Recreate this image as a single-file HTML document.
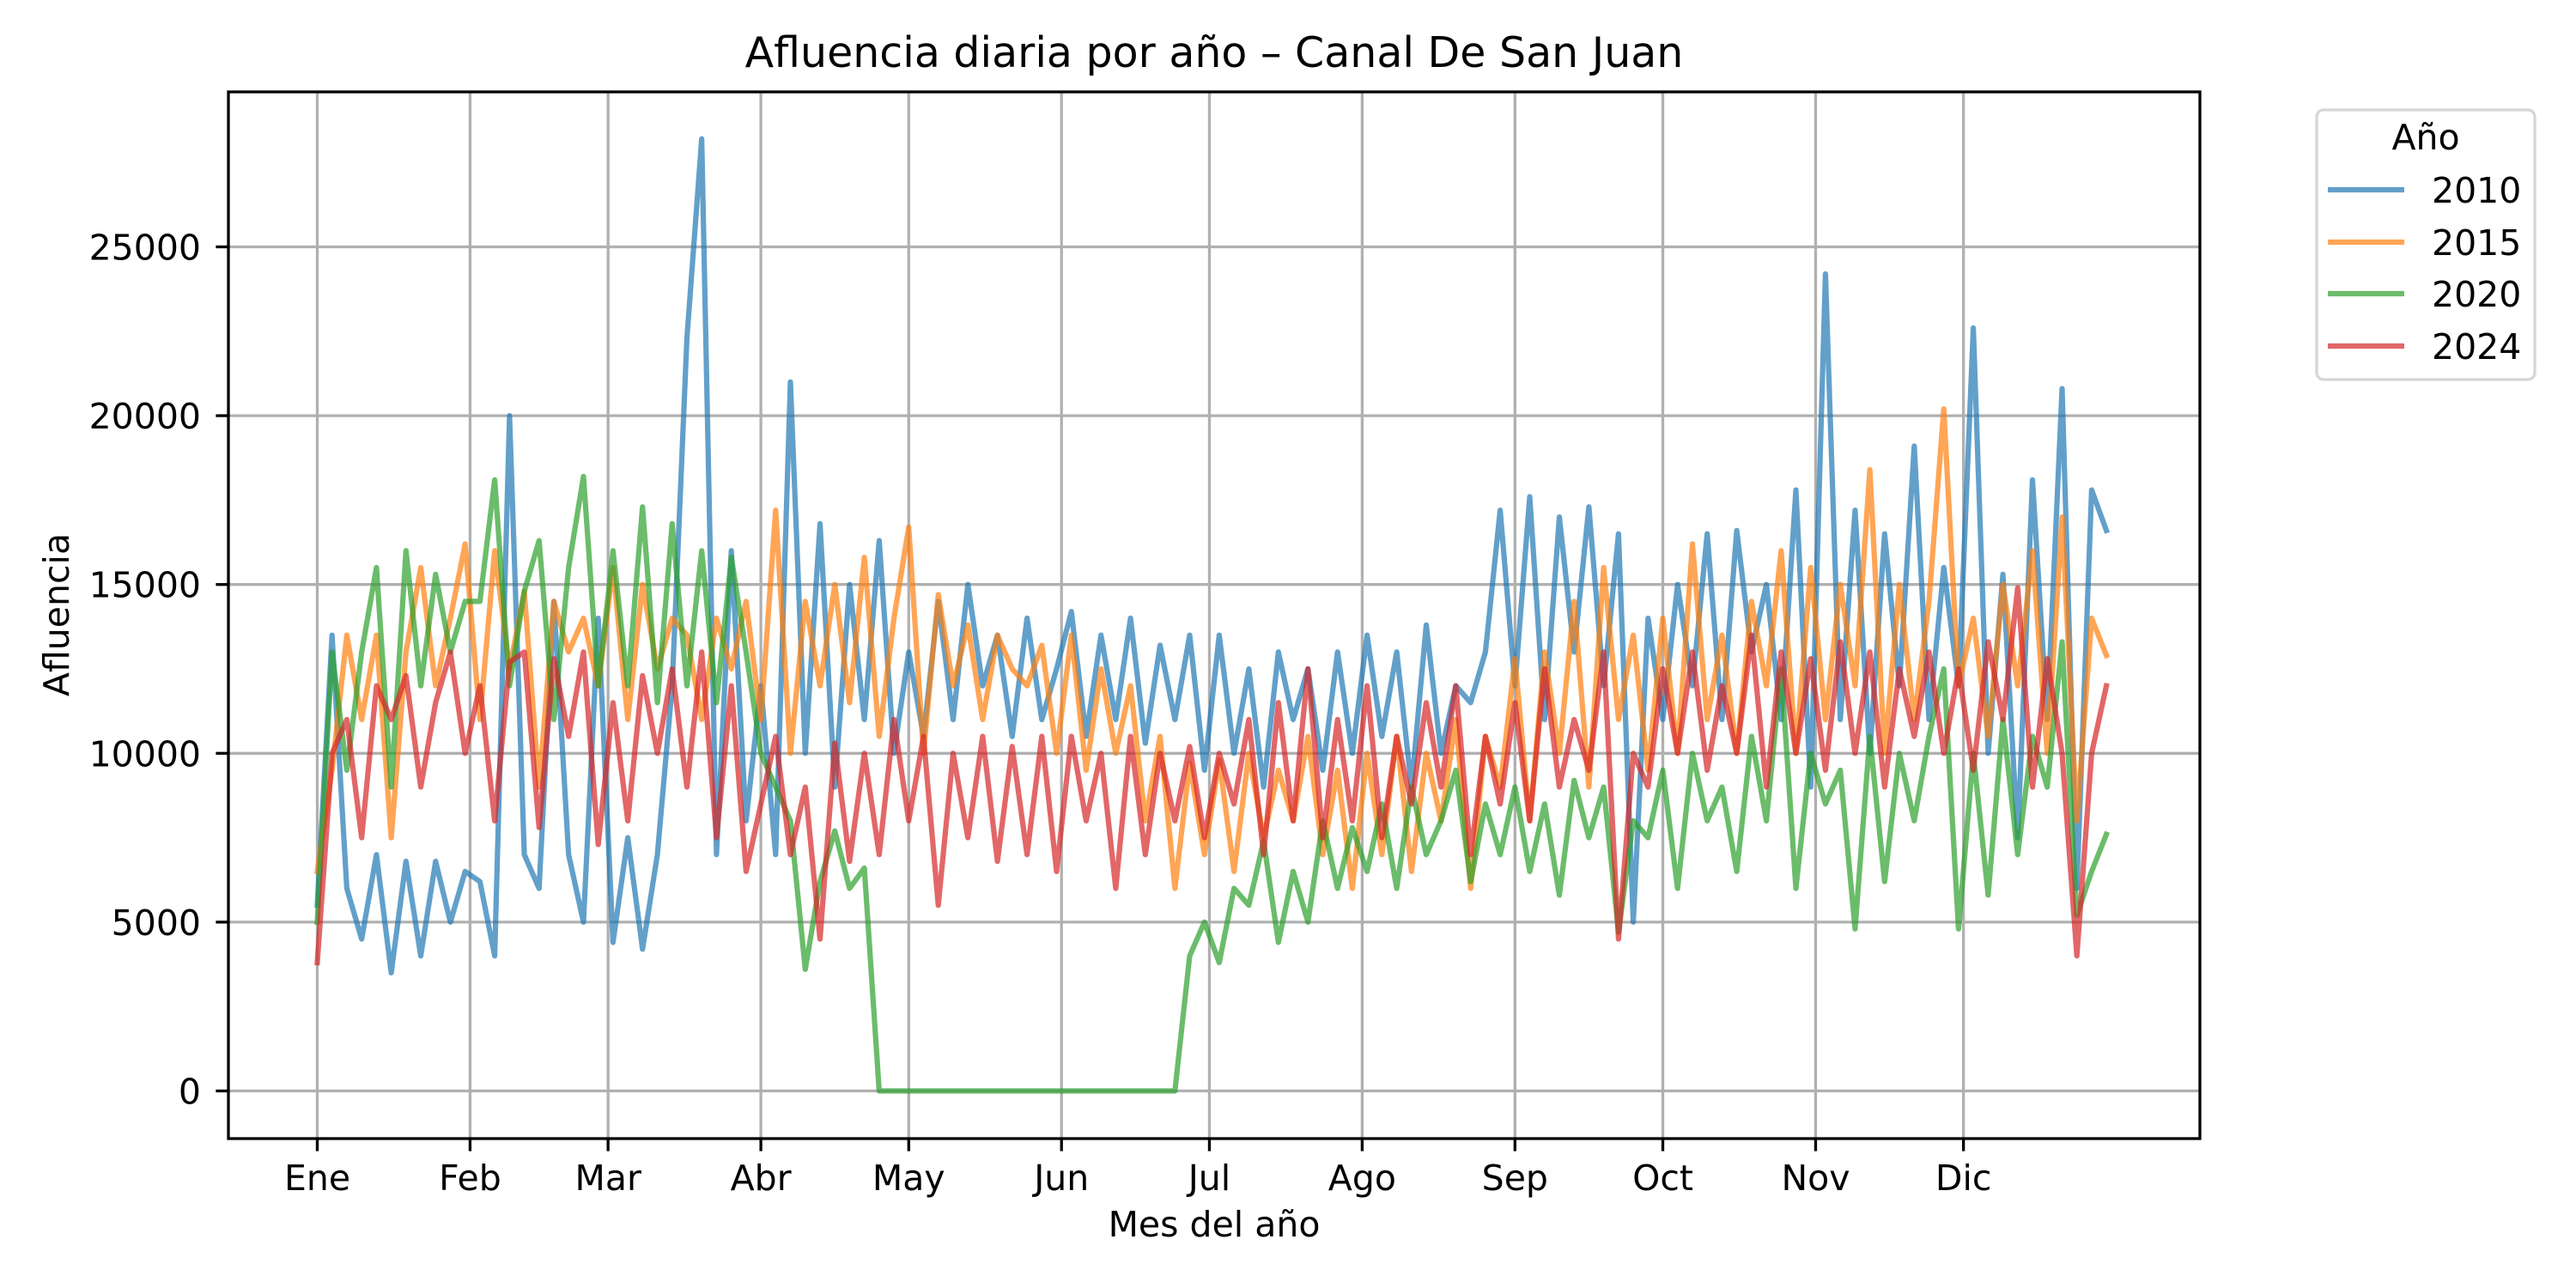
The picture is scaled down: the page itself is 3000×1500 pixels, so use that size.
<!DOCTYPE html>
<html><head><meta charset="utf-8"><style>
html,body{margin:0;padding:0;background:#fff;}
svg{display:block;font-family:"DejaVu Sans","Liberation Sans",sans-serif;}
</style></head><body>
<svg id="chart" width="3000" height="1500" viewBox="0 0 3000 1500"></svg>
<script>
const months = ["Ene","Feb","Mar","Abr","May","Jun","Jul","Ago","Sep","Oct","Nov","Dic"];
const monthStartDays = [1,32,60,91,121,152,182,213,244,274,305,335];
const yTicks = [0,5000,10000,15000,20000,25000];
const years = ["2010","2015","2020","2024"];
const dayStep = 3;
// values in thousands, one every 3 days from day 1
const s2010 = [5.5,13.5,6,4.5,7,3.5,6.8,4,6.8,5,6.5, 6.2,4,20,7,6,14.5,7,5,14, 4.4,7.5,4.2,7,12,22.3,28.2,7,16,8, 12,7,21,10,16.8,9,15,11,16.3,10, 13,10.5,14.5,11,15,12,13.5,10.5,14,11, 12.5,14.2,10.5,13.5,11,14,10.3,13.2,11,13.5, 9.5,13.5,10,12.5,9,13,11,12.5,9.5,13, 10,13.5,10.5,13,9,13.8,10,12,11.5,13, 17.2,12,17.6,11,17,13,17.3,12,16.5,5, 14,11,15,12,16.5,11,16.6,13,15,11, 17.8,9,24.2,11,17.2,10,16.5,12,19.1,11, 15.5,12,22.6,10,15.3,7.5,18.1,11,20.8,6,17.8,16.6];
const s2015 = [6.5,9.5,13.5,11,13.5,7.5,13,15.5,12,14,16.2, 11,16,12.5,14.8,9,14.5,13,14,12, 15.5,11,15,12.5,14,13.5,11,14,12.5,14.5, 11,17.2,10,14.5,12,15,11.5,15.8,10.5,14, 16.7,10,14.7,12,13.8,11,13.5,12.5,12,13.2, 10,13.5,9.5,12.5,10,12,8,10.5,6,9.7, 7,9.8,6.5,10,7.5,9.5,8,10.5,7,9.5, 6,10,7,10.5,6.5,10,8,11,6,10.5, 9,12.8,8,13,10,14.5,9,15.5,11,13.5, 9.5,14,10,16.2,11,13.5,10,14.5,12,16, 10,15.5,11,15,12,18.4,10,15,11,14.5, 20.2,12,14,10.5,15,12,16,10,17,8,14,12.9];
const s2020 = [5,13,9.5,13,15.5,9,16,12,15.3,13,14.5, 14.5,18.1,12,14.8,16.3,11,15.5,18.2,12, 16,12,17.3,11.5,16.8,12,16,11.5,15.8,13, 10,9,8,3.6,6.2,7.7,6,6.6,0,0, 0,0,0,0,0,0,0,0,0,0, 0,0,0,0,0,0,0,0,0,4, 5,3.8,6,5.5,7.4,4.4,6.5,5,8,6, 7.8,6.5,8.5,6,9,7,8,9.5,6.2,8.5, 7,9,6.5,8.5,5.8,9.2,7.5,9,4.7,8, 7.5,9.5,6,10,8,9,6.5,10.5,8,12.5, 6,10,8.5,9.5,4.8,10.5,6.2,10,8,10.5, 12.5,4.8,10,5.8,11,7,10.5,9,13.3,5.2,6.5,7.6];
const s2024 = [3.8,10,11,7.5,12,11,12.3,9,11.5,13,10, 12,8,12.7,13,7.8,12.8,10.5,13,7.3, 11.5,8,12.3,10,12.5,9,13,7.5,12,6.5, 8.5,10.5,7,9,4.5,10.3,6.8,10,7,11, 8,10.5,5.5,10,7.5,10.5,6.8,10.2,7,10.5, 6.5,10.5,8,10,6,10.5,7,10,8,10.2, 7.5,10,8.5,11,7,11.5,8,12.5,7.5,11, 8,12,7.5,10.5,8.5,11.5,9,12,7,10.5, 8.5,11.5,8,12.5,9,11,9.5,13,4.5,10, 9,12.5,10,13,9.5,12,10,13.5,9,13, 10,12.8,9.5,13.3,10,13,9,12.5,10.5,13, 10,12.5,9.5,13.3,11,14.9,9,12.8,10,4,10,12];
const series = [s2010,s2015,s2020,s2024];
const colors = ["#1f77b4","#ff7f0e","#2ca02c","#d62728"];

const L=266,R=2562,T=107,B=1326;
const xOf = d => 369.5 + (d-1)*5.74;
const yOf = v => 1270.5 - v*0.03932;
const NS="http://www.w3.org/2000/svg";
const svg=document.getElementById('chart');
function mk(tag,attrs,parent){const e=document.createElementNS(NS,tag);for(const k in attrs)e.setAttribute(k,attrs[k]);(parent||svg).appendChild(e);return e;}

// grid
monthStartDays.forEach((d,i)=>{
  const g=mk('line',{x1:xOf(d),x2:xOf(d),y1:T,y2:B,stroke:'#b0b0b0','stroke-width':3.3});
  
  
  const t=mk('line',{x1:xOf(d),x2:xOf(d),y1:B,y2:B+14.6,stroke:'#000','stroke-width':3.3});
  
  
  const tx=mk('text',{x:xOf(d),y:1386,'text-anchor':'middle','font-size':41});
  tx.textContent=months[i];
  
  
});
yTicks.forEach(v=>{
  const g=mk('line',{x1:L,x2:R,y1:yOf(v*1000/1000*1),y2:yOf(v),stroke:'#b0b0b0','stroke-width':3.3});
  g.setAttribute('y1',yOf(v));
  
  
  const t=mk('line',{x1:L-14.6,x2:L,y1:yOf(v),y2:yOf(v),stroke:'#000','stroke-width':3.3});
  
  
  const tx=mk('text',{x:234,y:yOf(v)+15,'text-anchor':'end','font-size':41});
  tx.textContent=String(v);
  
  
});

// series
series.forEach((s,k)=>{
  const pts=s.map((v,i)=>xOf(1+i*dayStep).toFixed(1)+','+yOf(v*1000).toFixed(1)).join(' ');
  const p=mk('polyline',{points:pts,fill:'none',stroke:colors[k],'stroke-width':6.2,'stroke-opacity':0.7,'stroke-linejoin':'round','stroke-linecap':'square'});
  
  
});

// frame
const fr=mk('rect',{x:L,y:T,width:R-L,height:B-T,fill:'none',stroke:'#000','stroke-width':3.3});



const title=mk('text',{x:(L+R)/2,y:78,'text-anchor':'middle','font-size':49});
title.textContent='Afluencia diaria por año – Canal De San Juan';


const xl=mk('text',{x:(L+R)/2,y:1440,'text-anchor':'middle','font-size':41});
xl.textContent='Mes del año';


const yl=mk('text',{x:0,y:0,'text-anchor':'middle','font-size':41,transform:'translate(80,716) rotate(-90)'});
yl.textContent='Afluencia';



// legend
const lg=mk('g',{});


mk('rect',{x:2698,y:128,width:254,height:314,rx:8,fill:'#fff','fill-opacity':0.8,stroke:'#d6d6d6','stroke-width':3.3},lg);
const lt=mk('text',{x:2825,y:174,'text-anchor':'middle','font-size':41},lg);
lt.textContent='Año';


const ly=[221,282,342,403];
years.forEach((yr,k)=>{
  const e=mk('g',{},lg);
  
  
  mk('line',{x1:2711,x2:2800,y1:ly[k],y2:ly[k],stroke:colors[k],'stroke-width':6.2,'stroke-opacity':0.7},e);
  const t=mk('text',{x:2832,y:ly[k]+15,'font-size':41},e);
  t.textContent=yr;
});
</script>
</body></html>
